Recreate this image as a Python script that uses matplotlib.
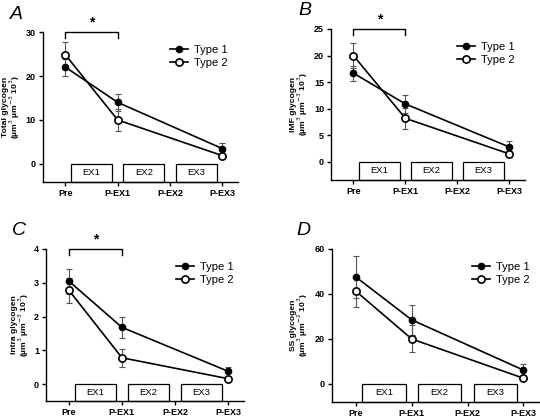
import matplotlib.pyplot as plt
from matplotlib.patches import Rectangle

plt.rcParams['font.family'] = ['Liberation Sans', 'DejaVu Sans']

timepoints = ['Pre', 'P-EX1', 'P-EX2', 'P-EX3']
x_obs = [0, 1, 3]
bouts = ['EX1', 'EX2', 'EX3']

# panel A: total glycogen
a_t1 = [22.0, 14.0, 3.5]
a_t1_err = [1.9, 2.0, 1.3]
a_t2 = [24.8, 10.0, 1.9]
a_t2_err = [2.9, 2.4, 0.4]

# panel B: IMF glycogen
b_t1 = [16.7, 10.9, 2.8]
b_t1_err = [1.4, 1.7, 1.1]
b_t2 = [20.0, 8.2, 1.5]
b_t2_err = [2.4, 2.0, 0.5]

# panel C: intra glycogen
c_t1 = [3.05, 1.68, 0.38]
c_t1_err = [0.37, 0.32, 0.14]
c_t2 = [2.78, 0.78, 0.16]
c_t2_err = [0.37, 0.27, 0.05]

# panel D: SS glycogen
d_t1 = [47.5, 28.5, 6.2]
d_t1_err = [9.5, 6.8, 2.5]
d_t2 = [41.2, 20.0, 2.6]
d_t2_err = [7.0, 6.0, 0.8]

# letter, axes rect (fig fraction), data, ylim, yticks, ylabel, star, ylabel offset px
panels = [
    ('A', [0.0796, 0.5656, 0.3611, 0.3580], a_t1, a_t1_err, a_t2, a_t2_err,
     (-4.1, 30), [0, 10, 20, 30], 'Total glycogen\n(µm$^3$ µm$^{-3}$ 10$^3$)', True, 21),
    ('B', [0.6130, 0.5704, 0.3593, 0.3604], b_t1, b_t1_err, b_t2, b_t2_err,
     (-3.4, 25), [0, 5, 10, 15, 20, 25], 'IMF glycogen\n(µm$^3$ µm$^{-3}$ 10$^3$)', True, 21),
    ('C', [0.0852, 0.0430, 0.3667, 0.3628], c_t1, c_t1_err, c_t2, c_t2_err,
     (-0.5, 4), [0, 1, 2, 3, 4], 'Intra glycogen\n(µm$^3$ µm$^{-3}$ 10$^3$)', True, 15),
    ('D', [0.6148, 0.0406, 0.3852, 0.3652], d_t1, d_t1_err, d_t2, d_t2_err,
     (-8, 60), [0, 20, 40, 60], 'SS glycogen\n(µm$^3$ µm$^{-2}$ 10$^3$)', False, 22),
]

fig = plt.figure(figsize=(5.4, 4.19), dpi=100)

for letter, rect, t1, t1e, t2, t2e, ylim, yticks, ylabel, star, lab_off in panels:
    ax = fig.add_axes(rect)
    ax.set_xlim(-0.43, 3.3)
    ax.set_ylim(*ylim)
    ymin = ylim[0]

    # exercise bout boxes
    for i, lab in enumerate(bouts):
        ax.add_patch(Rectangle((i + 0.11, ymin), 0.78, -ymin, facecolor='white',
                               edgecolor='black', lw=0.9, zorder=2, clip_on=False))
        ax.text(i + 0.5, ymin / 2, lab, ha='center', va='center', fontsize=6.8, zorder=3)

    ax.errorbar(x_obs, t1, yerr=t1e, fmt='none', ecolor='#555555', elinewidth=0.8,
                capsize=2, capthick=0.8, zorder=3)
    ax.errorbar(x_obs, t2, yerr=t2e, fmt='none', ecolor='#555555', elinewidth=0.8,
                capsize=2, capthick=0.8, zorder=3)
    ax.plot(x_obs, t1, '-o', color='black', lw=1.2, ms=4.5, mfc='black',
            label='Type 1', zorder=4)
    ax.plot(x_obs, t2, '-o', color='black', lw=1.2, ms=5.2, mfc='white', mew=1.2,
            label='Type 2', zorder=5)

    if star:
        top = ylim[1]
        leg = (ylim[1] - ylim[0]) * 0.04
        ax.plot([0, 0, 1, 1], [top - leg, top, top, top - leg], color='black',
                lw=1.0, clip_on=False)
        ax.text(0.5, top + leg * 0.4, '*', ha='center', va='bottom', fontsize=10,
                fontweight='bold')

    ax.set_xticks(range(4))
    ax.set_xticklabels(timepoints, fontsize=6.5, fontweight='bold')
    ax.set_yticks(yticks)
    ax.set_yticklabels([str(v) for v in yticks], fontsize=6.5, fontweight='bold')
    ax.tick_params(length=3, width=1.0, pad=2)
    ax.spines['top'].set_visible(False)
    ax.spines['right'].set_visible(False)
    ax.spines['left'].set_linewidth(1.0)
    ax.spines['bottom'].set_linewidth(1.0)
    ax.set_ylabel(ylabel, fontsize=6.1, fontweight='bold', linespacing=0.9)
    ax.yaxis.set_label_coords(-lab_off / (rect[2] * 540), 0.5)

    ax.legend(loc='upper right', bbox_to_anchor=(1.0, 0.98), frameon=False,
              fontsize=8, handlelength=1.6, handletextpad=0.6, labelspacing=0.3)

    ax.text(-0.17, 1.12, letter, transform=ax.transAxes, fontsize=14,
            fontstyle='italic', ha='left', va='center')

fig.savefig('out.png', dpi=100)
